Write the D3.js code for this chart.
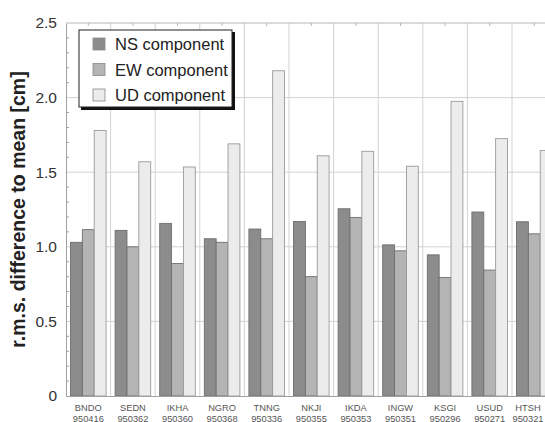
<!DOCTYPE html>
<html>
<head>
<meta charset="utf-8">
<script src="https://cdn.jsdelivr.net/npm/d3@7"></script>
<style>
  body { margin: 0; background: #fff; }
  svg { display: block; font-family: "Liberation Sans", Arial, sans-serif; }
</style>
</head>
<body>
<svg id="chart" width="545" height="422"></svg>
<script>
const stations = ["BNDO", "SEDN", "IKHA", "NGRO", "TNNG", "NKJI", "IKDA", "INGW", "KSGI", "USUD", "HTSH"];
const codes = ["950416", "950362", "950360", "950368", "950336", "950355", "950353", "950351", "950296", "950271", "950321"];
const series = ["NS component", "EW component", "UD component"];
const nsValues = [1.03, 1.11, 1.157, 1.054, 1.119, 1.17, 1.255, 1.013, 0.946, 1.233, 1.168];
const ewValues = [1.115, 1.0, 0.888, 1.03, 1.054, 0.80, 1.197, 0.973, 0.794, 0.844, 1.087];
const udValues = [1.78, 1.57, 1.535, 1.69, 2.18, 1.61, 1.64, 1.54, 1.975, 1.725, 1.646];
const yTicks = [0, 0.5, 1.0, 1.5, 2.0, 2.5];

const colors = ["#8c8c8c", "#b4b4b4", "#ececec"];

const svg = d3.select("#chart");
const margin = { top: 23, left: 66, bottom: 26 };
const width = +svg.attr("width");
const height = +svg.attr("height");
const groupW = 44.6;

const rows = stations.map((s, i) => ({ station: s, code: codes[i], values: [nsValues[i], ewValues[i], udValues[i]] }));

const x = d3.scaleBand()
  .domain(stations)
  .range([margin.left, margin.left + groupW * stations.length])
  .padding(0);

const xs = d3.scaleBand()
  .domain(series)
  .range([0, x.bandwidth()])
  .paddingInner(0)
  .paddingOuter(0.38);

const y = d3.scaleLinear()
  .domain([0, 2.5])
  .range([height - margin.bottom, margin.top]);

const right = x.range()[1];

// grid
svg.append("g")
  .selectAll("line")
  .data(yTicks.slice(1, -1))
  .enter().append("line")
  .attr("x1", margin.left).attr("x2", right)
  .attr("y1", d => y(d)).attr("y2", d => y(d))
  .attr("stroke", "#d2d2d2");

svg.append("g")
  .selectAll("line")
  .data(stations.slice(1))
  .enter().append("line")
  .attr("x1", d => x(d)).attr("x2", d => x(d))
  .attr("y1", y(0)).attr("y2", y(2.5))
  .attr("stroke", "#d2d2d2");

// top frame, ticks at group centres
svg.append("line")
  .attr("x1", margin.left).attr("x2", right)
  .attr("y1", y(2.5)).attr("y2", y(2.5))
  .attr("stroke", "#b8b8b8");
svg.append("g")
  .selectAll("line")
  .data(stations)
  .enter().append("line")
  .attr("x1", d => x(d) + x.bandwidth() / 2).attr("x2", d => x(d) + x.bandwidth() / 2)
  .attr("y1", y(2.5)).attr("y2", y(2.5) + 3)
  .attr("stroke", "#b8b8b8");

// bars
const groups = svg.append("g")
  .selectAll("g")
  .data(rows)
  .enter().append("g")
  .attr("transform", d => `translate(${x(d.station)},0)`);

groups.selectAll("rect")
  .data(d => d.values.map((v, i) => ({ key: series[i], value: v, i })))
  .enter().append("rect")
  .attr("x", d => xs(d.key))
  .attr("y", d => y(d.value))
  .attr("width", xs.bandwidth())
  .attr("height", d => y(0) - y(d.value))
  .attr("fill", d => colors[d.i])
  .attr("stroke", d => d.i === 2 ? "#9a9a9a" : "#6e6e6e")
  .attr("stroke-width", 0.9);

// y axis
const yAxis = svg.append("g")
  .attr("transform", `translate(${margin.left},0)`)
  .call(d3.axisLeft(y)
    .tickValues(yTicks)
    .tickSize(0)
    .tickPadding(9)
    .tickFormat(d => d === 0 ? "0" : d3.format(".1f")(d)));
yAxis.select(".domain").attr("stroke", "#a0a0a0");
yAxis.selectAll("text")
  .attr("font-size", 15.5)
  .attr("fill", "#333")
  .attr("font-family", "'Liberation Sans', Arial, sans-serif");

// minor ticks
svg.append("g")
  .selectAll("line")
  .data(d3.range(1, 25).filter(k => k % 5 !== 0).map(k => k / 10))
  .enter().append("line")
  .attr("x1", margin.left).attr("x2", margin.left + 3)
  .attr("y1", d => y(d)).attr("y2", d => y(d))
  .attr("stroke", "#a0a0a0");

// x axis
const xAxis = svg.append("g")
  .attr("transform", `translate(0,${y(0)})`)
  .call(d3.axisBottom(x).tickSize(0).tickFormat(""));
xAxis.select(".domain").attr("stroke", "#a0a0a0");

// station labels, last one kept inside the window
const labels = svg.append("g")
  .selectAll("text")
  .data(rows)
  .enter().append("text")
  .attr("text-anchor", "middle")
  .attr("font-size", 9.3)
  .attr("fill", "#555")
  .attr("transform", d => `translate(${Math.min(x(d.station) + x.bandwidth() / 2, width - 17)},${y(0) + 15})`);
labels.append("tspan").attr("x", 0).attr("y", 0).text(d => d.station);
labels.append("tspan").attr("x", 0).attr("y", 10.5).text(d => d.code);

// y axis title
svg.append("text")
  .attr("transform", `translate(25,${(y(0) + y(2.5)) / 2}) rotate(-90)`)
  .attr("text-anchor", "middle")
  .attr("font-size", 19.5)
  .attr("font-weight", "bold")
  .attr("fill", "#222")
  .text("r.m.s. difference to mean [cm]");

// legend
const lg = svg.append("g").attr("transform", "translate(79,30)");
lg.append("rect").attr("x", 2).attr("y", 2).attr("width", 154).attr("height", 78).attr("fill", "#111");
lg.append("rect").attr("x", 0).attr("y", 0).attr("width", 153).attr("height", 77)
  .attr("fill", "#fff").attr("stroke", "#222").attr("stroke-width", 1);
const items = lg.selectAll("g.item")
  .data(series)
  .enter().append("g")
  .attr("class", "item")
  .attr("transform", (d, i) => `translate(14,${14 + i * 25.5})`);
items.append("rect")
  .attr("width", 12).attr("height", 12).attr("y", -6)
  .attr("fill", (d, i) => colors[i])
  .attr("stroke", "#888").attr("stroke-width", 0.8);
items.append("text")
  .attr("x", 22).attr("y", 6)
  .attr("font-size", 16.5)
  .attr("fill", "#222")
  .text(d => d);
</script>
</body>
</html>
